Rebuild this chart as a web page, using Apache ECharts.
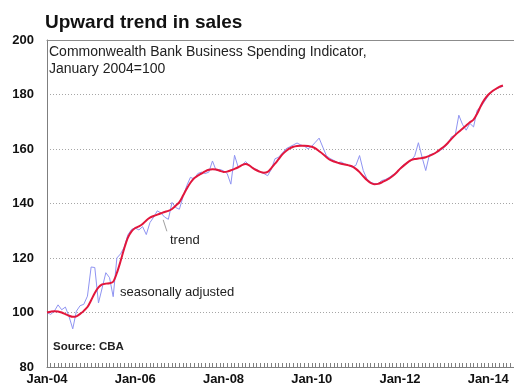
<!DOCTYPE html>
<html>
<head>
<meta charset="utf-8">
<script src="https://cdn.jsdelivr.net/npm/echarts@6/dist/echarts.min.js"></script>
<style>
  html, body { margin: 0; padding: 0; background: #fff; }
  #chart { width: 514px; height: 385px; }
</style>
</head>
<body>
<div id="chart"></div>
<script>
// Monthly index values, January 2004 onwards (January 2004 = 100)
const seasonallyAdjusted = [
  100.0, 99.3, 100.5, 102.8, 101.0, 102.0, 98.5, 94.0, 100.5, 102.5, 103.0, 106.0,
  116.7, 116.5, 103.5, 109.0, 114.6, 112.8, 105.8, 120.0, 121.5, 124.0, 128.5, 130.5,
  131.0, 130.3, 131.5, 128.6, 133.0, 135.0, 137.3, 136.5, 135.0, 134.2, 140.4, 138.5,
  137.9, 142.5, 146.5, 149.6, 149.0, 151.0, 151.5, 151.0, 151.5, 155.6, 152.1, 152.5,
  152.0, 151.0, 147.1, 157.7, 153.3, 154.0, 155.4, 154.0, 153.0, 152.5, 151.5, 151.0,
  150.2, 152.5, 156.4, 157.0, 158.5, 160.1, 160.8, 161.5, 162.2, 161.5, 161.0, 160.1,
  161.0, 162.5, 164.0, 160.7, 157.5, 156.5, 155.8, 155.0, 155.2, 154.5, 154.0, 153.3,
  154.0, 157.6, 152.1, 149.0, 147.8, 147.3, 147.2, 148.4, 148.8, 149.5, 150.5, 151.2,
  153.0, 154.2, 155.0, 155.7, 157.5, 162.3, 157.0, 152.1, 157.9, 158.2, 158.8, 159.5,
  160.5, 162.0, 164.5, 165.0, 172.4, 169.0, 166.9, 169.4, 168.1, 174.3, 175.5, 177.5,
  179.5, 181.0, 182.0, 182.5, 183.0
];

const trend = [
  100.0, 100.3, 100.5, 100.4, 100.0, 99.4, 98.8, 98.4, 98.6, 99.5, 100.6, 102.0,
  104.5, 107.2, 109.2, 110.3, 110.6, 110.7, 111.3, 114.5, 118.8, 123.5, 127.5, 129.8,
  131.0, 131.6, 132.5, 133.8, 134.8, 135.4, 135.9, 136.4, 136.9, 137.3, 138.0, 139.2,
  140.5, 142.9, 145.4, 147.6, 149.3, 150.2, 151.0, 151.8, 152.4, 152.6, 152.5, 152.0,
  151.6, 151.7, 152.2, 152.7, 153.3, 154.1, 154.5, 154.0, 153.0, 152.2, 151.6, 151.3,
  151.6, 153.0, 154.6, 156.3, 158.0, 159.3, 160.2, 160.8, 161.1, 161.2, 161.2, 161.1,
  160.8, 160.2, 159.2, 158.2, 157.0, 156.0, 155.4, 155.0, 154.6, 154.3, 154.0, 153.6,
  152.7, 151.5, 150.0, 148.6, 147.6, 147.1, 147.2, 147.7, 148.4, 149.1, 150.1, 151.3,
  152.7, 153.9, 155.0, 155.9, 156.3, 156.5, 156.7, 157.0, 157.5, 158.1, 158.9, 159.9,
  160.9, 162.2, 163.7, 165.1, 166.3, 167.4, 168.6, 169.8, 170.8, 173.0, 175.9, 178.2,
  179.9, 181.1, 182.0, 182.8, 183.3
];

// x-axis labels, one every 24 months starting at January 2004
const tickLabels = ['Jan-04', 'Jan-06', 'Jan-08', 'Jan-10', 'Jan-12', 'Jan-14'];
const yTicks = [80, 100, 120, 140, 160, 180, 200];

const FONT = '"Liberation Sans", Arial, sans-serif';
const chart = echarts.init(document.getElementById('chart'), null, { renderer: 'canvas' });

const toPairs = arr => arr.map((v, i) => [i, v]);

chart.setOption({
  animation: false,
  backgroundColor: '#ffffff',
  textStyle: { fontFamily: FONT },
  title: [{
    text: 'Upward trend in sales',
    left: 40, top: 8,
    textStyle: { fontFamily: FONT, fontSize: 19, fontWeight: 'bold', color: '#111' }
  }],
  grid: {
    left: 47, right: 0, top: 40, bottom: 18,
    containLabel: false,
    outerBoundsMode: 'none'
  },
  xAxis: [
    {
      type: 'value',
      min: 0, max: 127, interval: 24,
      axisLine: { show: true, onZero: false, lineStyle: { color: '#7f7f7f', width: 1 } },
      axisTick: { show: true, inside: true, length: 4, lineStyle: { color: '#7f7f7f' } },
      minorTick: { show: true, splitNumber: 24, length: 4, lineStyle: { color: '#7f7f7f' } },
      splitLine: { show: false },
      axisLabel: {
        margin: 6,
        fontFamily: FONT, fontSize: 13, fontWeight: 'bold', color: '#111',
        formatter: v => tickLabels[Math.round(v / 24)] || ''
      }
    },
    {
      // plain frame line along the top of the plot
      type: 'value', position: 'top',
      min: 0, max: 127,
      axisLine: { show: true, onZero: false, lineStyle: { color: '#8c8c8c', width: 1 } },
      axisTick: { show: false },
      axisLabel: { show: false },
      splitLine: { show: false }
    }
  ],
  yAxis: {
    type: 'value',
    min: yTicks[0], max: yTicks[yTicks.length - 1], interval: 20,
    axisLine: { show: true, lineStyle: { color: '#7f7f7f', width: 1 } },
    axisTick: { show: false },
    splitLine: { show: true, lineStyle: { color: '#a6a6a6', type: [1, 2], width: 1 } },
    axisLabel: {
      margin: 13,
      fontFamily: FONT, fontSize: 13, fontWeight: 'bold', color: '#111'
    }
  },
  series: [
    {
      name: 'seasonally adjusted',
      type: 'line',
      data: toPairs(seasonallyAdjusted),
      showSymbol: false,
      lineStyle: { color: '#8f94f2', width: 1 },
      z: 2
    },
    {
      name: 'trend',
      type: 'line',
      data: toPairs(trend),
      showSymbol: false,
      smooth: 0.3,
      lineStyle: { color: '#e2163c', width: 2 },
      z: 3,
      markLine: {
        silent: true,
        symbol: ['none', 'none'],
        label: { show: false },
        lineStyle: { color: '#a0a0a0', width: 1, type: 'solid' },
        data: [[{ coord: [31.6, 134.0] }, { coord: [32.6, 129.8] }]]
      }
    }
  ],
  graphic: [
    {
      type: 'text', left: 49, top: 44,
      style: {
        text: 'Commonwealth Bank Business Spending Indicator,\nJanuary 2004=100',
        font: '14px ' + FONT, fill: '#222', lineHeight: 17
      }
    },
    {
      type: 'text', left: 170, top: 234,
      style: { text: 'trend', font: '13px ' + FONT, fill: '#222' }
    },
    {
      type: 'text', left: 120, top: 286,
      style: { text: 'seasonally adjusted', font: '13px ' + FONT, fill: '#222' }
    },
    {
      type: 'text', left: 53, top: 341,
      style: { text: 'Source: CBA', font: 'bold 11.5px ' + FONT, fill: '#222' }
    }
  ]
});
</script>
</body>
</html>
